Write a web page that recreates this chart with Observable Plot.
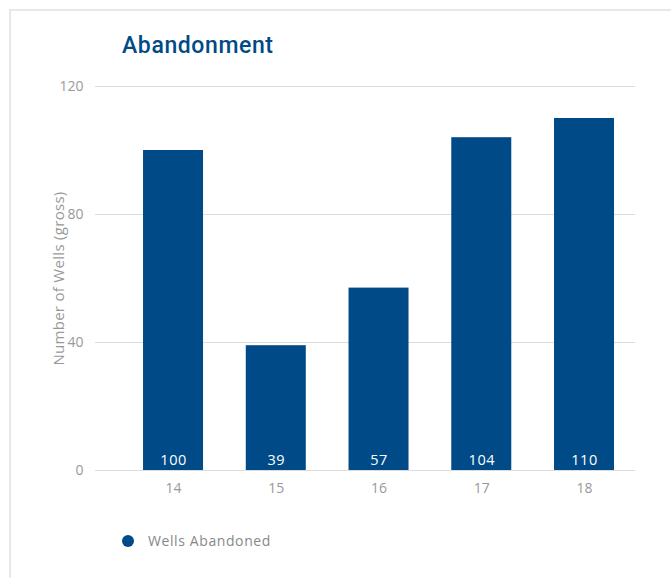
<!DOCTYPE html>
<html>
<head>
<meta charset="utf-8">
<script src="https://cdn.jsdelivr.net/npm/d3@7"></script>
<script src="https://cdn.jsdelivr.net/npm/@observablehq/plot@0.6"></script>
<style>
  html, body { margin: 0; padding: 0; background: #fff; }
  body { width: 671px; height: 578px; position: relative; overflow: hidden; font-family: "Open Sans", sans-serif; }
  #frame { position: absolute; left: 9px; top: 9px; width: 700px; height: 600px; border-top: 2px solid #e8e8e8; border-left: 2px solid #e8e8e8; }
  #title { position: absolute; left: 122px; top: 32px; font-family: Roboto, sans-serif; font-weight: 500; font-size: 23px; line-height: 27px; color: #004a87; letter-spacing: 0.6px; }
  #chart { position: absolute; left: 0; top: 0; }
  #chart svg [aria-label="y-axis label"] text { font-size: 15px; letter-spacing: 0.3px; }
  #chart svg [aria-label="text"] text { letter-spacing: 0.5px; }
  #legend { position: absolute; left: 122px; top: 531px; display: flex; align-items: center; font-size: 14px; letter-spacing: 0.6px; color: #888; }
  #legend .dot { width: 12px; height: 12px; border-radius: 50%; background: #004a87; margin-right: 14px; }
</style>
</head>
<body>
<div id="frame"></div>
<div id="title">Abandonment</div>
<div id="chart"></div>
<div id="legend"><span class="dot"></span><span>Wells Abandoned</span></div>
<script>
const years = ["14", "15", "16", "17", "18"];
const wellsAbandoned = [100, 39, 57, 104, 110];
const yTicks = [0, 40, 80, 120];
const barColor = "#004a87";

const data = years.map((y, i) => ({year: y, value: wellsAbandoned[i]}));

const chart = Plot.plot({
  width: 671,
  height: 500,
  marginTop: 86,
  marginBottom: 30,
  marginLeft: 95,
  marginRight: 36,
  style: {fontFamily: "'Open Sans', sans-serif", fontSize: "14px", color: "#999", background: "transparent"},
  x: {domain: years, paddingInner: 0.416, paddingOuter: 0.3358, align: 0.696, round: false, label: null, tickSize: 0, tickPadding: 13},
  y: {domain: [0, 120], ticks: yTicks, label: "Number of Wells (gross)", labelAnchor: "center", labelArrow: "none", labelOffset: 42, tickSize: 0, tickPadding: 12},
  marks: [
    Plot.gridY(yTicks, {stroke: "#dcdcdc", strokeOpacity: 1}),
    Plot.barY(data, {x: "year", y: "value", fill: barColor}),
    Plot.ruleY([0], {stroke: "#dcdcdc"}),
    Plot.text(data, {x: "year", y: 0, text: d => String(d.value), fill: "#fff", dy: -10, fontSize: 14.5})
  ]
});
document.getElementById("chart").appendChild(chart);
</script>
</body>
</html>
